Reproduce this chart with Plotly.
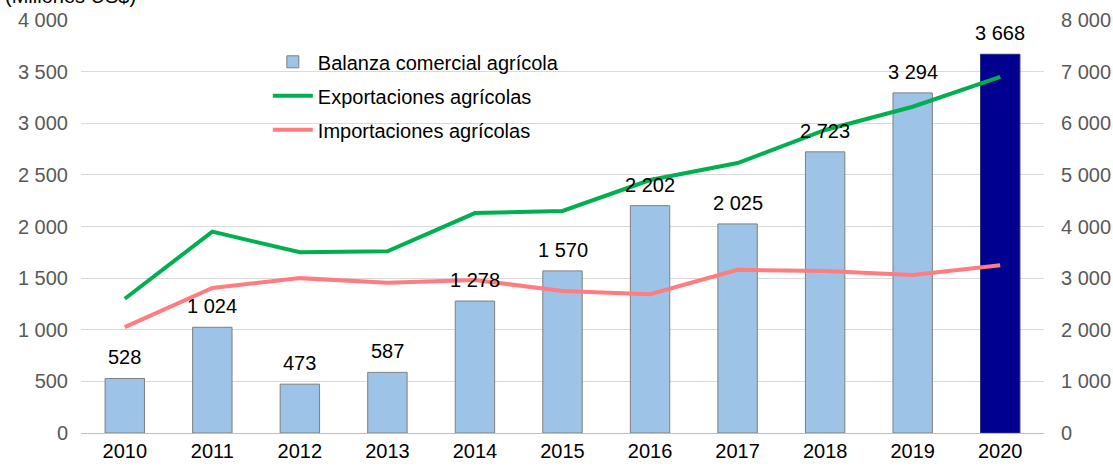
import plotly.graph_objects as go

years = ["2010", "2011", "2012", "2013", "2014", "2015", "2016", "2017", "2018", "2019", "2020"]
balanza = [528, 1024, 473, 587, 1278, 1570, 2202, 2025, 2723, 3294, 3668]
exportaciones = [2600, 3900, 3500, 3520, 4260, 4300, 4900, 5230, 5870, 6320, 6900]
importaciones = [2050, 2810, 3000, 2910, 2965, 2750, 2690, 3160, 3140, 3060, 3250]
balanza_labels = ["528", "1 024", "473", "587", "1 278", "1 570", "2 202", "2 025", "2 723", "3 294", "3 668"]

left_ticks = [0, 500, 1000, 1500, 2000, 2500, 3000, 3500, 4000]
right_ticks = [0, 1000, 2000, 3000, 4000, 5000, 6000, 7000, 8000]

bar_colors = ["#9DC3E6"] * (len(years) - 1) + ["#000090"]
bar_lines = ["#7F7F7F"] * (len(years) - 1) + ["#2F2F7F"]

FONT = "Liberation Sans, Arial"

fig = go.Figure()
fig.add_trace(go.Bar(
    x=years, y=balanza, name="Balanza comercial agrícola",
    marker=dict(color=bar_colors, line=dict(color=bar_lines, width=1)),
    width=0.45, legendgroup="a",
))
fig.add_trace(go.Scatter(
    x=years, y=exportaciones, name="Exportaciones agrícolas", yaxis="y2",
    mode="lines", line=dict(color="#00B050", width=4), legendgroup="b",
))
fig.add_trace(go.Scatter(
    x=years, y=importaciones, name="Importaciones agrícolas", yaxis="y2",
    mode="lines", line=dict(color="#FF7C80", width=4), legendgroup="c",
))

annotations = [dict(text="(Millones US$)", xref="paper", yref="paper",
                    x=-78/963, y=1 + 11/413, xanchor="left", yanchor="bottom",
                    showarrow=False, font=dict(size=20, color="#000000"))]
for i, (val, lab) in enumerate(zip(balanza, balanza_labels)):
    # category axis: annotation x given as the category index
    annotations.append(dict(text=lab, x=i, y=val, xref="x", yref="y",
                            xanchor="center", yanchor="bottom", yshift=8,
                            showarrow=False,
                            font=dict(family=FONT, size=20, color="#000000")))

fig.update_layout(
    width=1113, height=466,
    margin=dict(l=81, r=69, t=20, b=33),
    paper_bgcolor="white", plot_bgcolor="white",
    font=dict(family=FONT, size=20, color="#000000"),
    showlegend=True,
    legend=dict(x=0.194, y=0.946, xanchor="left", yanchor="top",
                bgcolor="rgba(255,255,255,0)", font=dict(size=20, color="#000000"),
                traceorder="grouped", tracegroupgap=5, itemwidth=40),
    xaxis=dict(type="category", range=[-0.5, len(years) - 0.5],
               showline=True, linecolor="#BFBFBF", linewidth=1, ticks="",
               tickfont=dict(size=20, color="#000000"), showgrid=False,
               automargin=False),
    yaxis=dict(range=[0, 4000], tickvals=left_ticks,
               ticktext=[f"{v:,}".replace(",", " ") for v in left_ticks],
               showgrid=True, gridcolor="#D9D9D9", gridwidth=1,
               tickfont=dict(size=20, color="#595959"), ticklabelstandoff=12,
               zeroline=False, automargin=False),
    yaxis2=dict(range=[0, 8000], tickvals=right_ticks,
                ticktext=[f"{v:,}".replace(",", " ") for v in right_ticks],
                overlaying="y", side="right", showgrid=False,
                tickfont=dict(size=20, color="#595959"), ticklabelstandoff=16,
                zeroline=False, automargin=False),
    annotations=annotations,
)

fig.write_html("out.html", config={"displayModeBar": False},
               post_script="document.body.style.margin='0';document.body.style.overflow='hidden';")
